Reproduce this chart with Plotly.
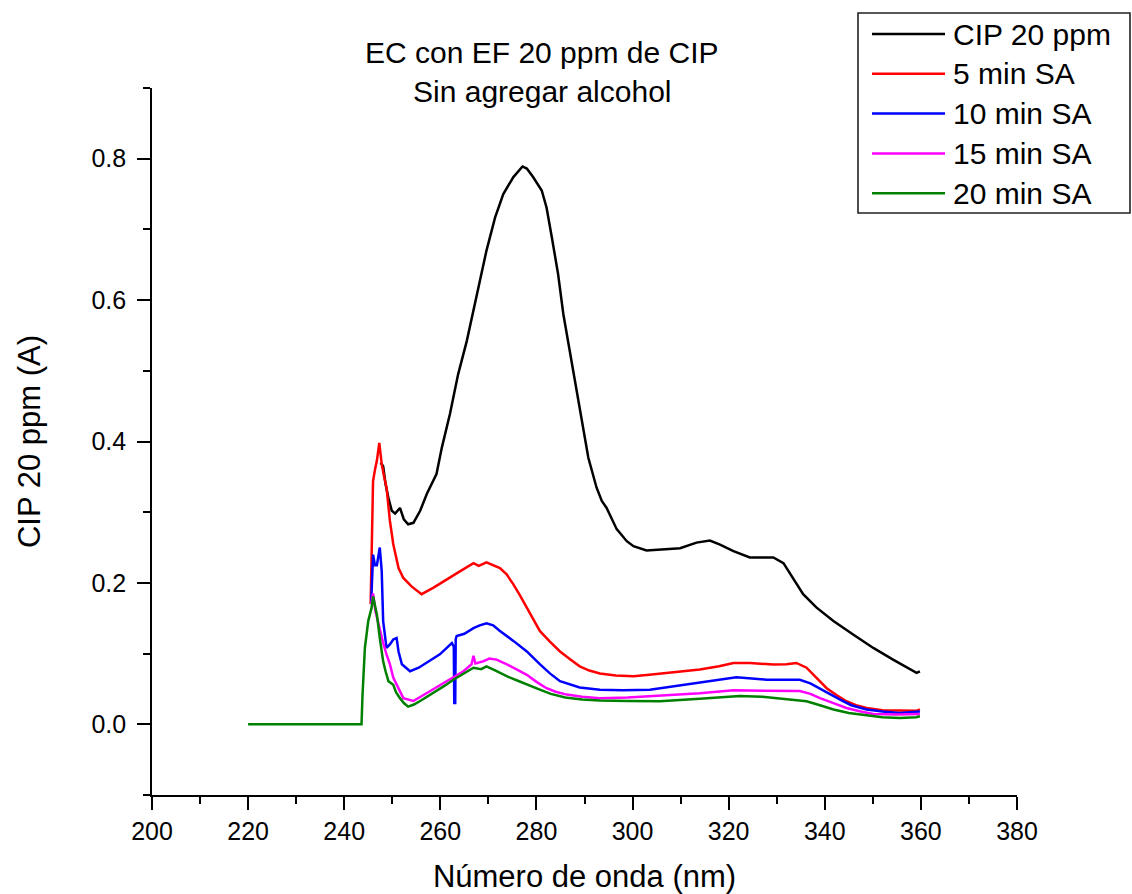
import plotly.graph_objects as go

# ---------------- data ----------------
series_names = ["CIP 20 ppm", "5 min SA", "10 min SA", "15 min SA", "20 min SA"]
series_colors = ["#000000", "#ff0000", "#0000ff", "#ff00ff", "#008000"]

cip_x = [247.6, 248.1, 248.6, 249.2, 249.9, 250.6, 251.6, 252.4, 253.3, 254.4, 255.8, 257.2,
         259.2, 260.3, 262.0, 263.7, 265.5, 266.9, 268.2, 269.6, 271.4, 273.1, 275.2, 277.1,
         278.0, 279.3, 281.1, 282.1, 283.2, 284.5, 285.6, 287.0, 288.4, 289.7, 290.8, 292.5,
         293.6, 294.6, 296.7, 298.8, 300.2, 302.9, 306.4, 309.9, 313.3, 316.1, 318.2, 321.0,
         324.4, 329.3, 331.4, 333.4, 335.5, 338.3, 341.8, 345.9, 350.1, 354.2, 359.1, 359.8]
cip_y = [0.370, 0.365, 0.340, 0.320, 0.302, 0.298, 0.306, 0.290, 0.283, 0.285, 0.302, 0.326,
         0.354, 0.391, 0.439, 0.495, 0.542, 0.585, 0.623, 0.670, 0.717, 0.750, 0.774, 0.789,
         0.786, 0.774, 0.755, 0.731, 0.689, 0.637, 0.580, 0.524, 0.472, 0.420, 0.377, 0.335,
         0.316, 0.306, 0.276, 0.259, 0.252, 0.246, 0.247, 0.249, 0.257, 0.260, 0.254, 0.245,
         0.236, 0.236, 0.228, 0.207, 0.184, 0.165, 0.146, 0.127, 0.108, 0.0915, 0.0727, 0.075]

m5_x = [245.5, 245.7, 246.0, 246.4, 246.8, 247.3, 247.6, 247.8, 248.3, 248.8, 249.5, 250.2,
        251.3, 252.3, 254.0, 256.1, 258.5, 262.0, 264.5, 266.9, 268.0, 269.6, 270.3, 272.4,
        273.8, 275.2, 276.6, 278.0, 279.3, 280.7, 282.8, 284.9, 287.0, 289.0, 291.0, 293.2,
        296.5, 300.2, 303.5, 307.1, 314.0, 318.0, 321.0, 324.4, 329.3, 332.0, 334.1, 336.2,
        338.3, 340.4, 342.5, 344.5, 346.5, 348.7, 352.0, 355.6, 359.0, 359.8]
m5_y = [0.170, 0.250, 0.344, 0.360, 0.373, 0.398, 0.380, 0.368, 0.350, 0.335, 0.288, 0.255,
        0.221, 0.207, 0.195, 0.184, 0.193, 0.207, 0.218, 0.228, 0.224, 0.229, 0.227, 0.221,
        0.212, 0.198, 0.182, 0.165, 0.148, 0.132, 0.117, 0.103, 0.092, 0.082, 0.076, 0.072,
        0.069, 0.068, 0.070, 0.0727, 0.0774, 0.082, 0.0868, 0.0868, 0.0845, 0.085, 0.0868, 0.080,
        0.066, 0.051, 0.041, 0.0326, 0.027, 0.023, 0.020, 0.019, 0.019, 0.021]

m10_x = [245.6, 246.0, 246.4, 246.8, 247.4, 247.8, 248.1, 248.8, 249.5, 250.2, 250.9, 251.3,
         252.0, 253.7, 255.5, 257.2, 259.9, 262.4, 262.8, 262.9, 263.1, 263.2, 263.4, 265.0,
         266.9, 268.2, 269.6, 271.0, 272.4, 275.2, 278.0, 280.7, 282.8, 284.9, 289.0, 293.2,
         298.0, 303.6, 310.5, 317.5, 321.6, 327.9, 334.8, 337.0, 339.0, 341.0, 343.2, 345.5,
         348.7, 352.0, 355.6, 359.0, 359.8]
m10_y = [0.170, 0.240, 0.225, 0.225, 0.250, 0.217, 0.146, 0.108, 0.113, 0.120, 0.122, 0.103,
         0.085, 0.075, 0.080, 0.087, 0.099, 0.115, 0.110, 0.030, 0.030, 0.120, 0.125, 0.128,
         0.136, 0.140, 0.143, 0.140, 0.132, 0.118, 0.103, 0.085, 0.072, 0.061, 0.052, 0.049,
         0.048, 0.049, 0.056, 0.063, 0.0666, 0.063, 0.063, 0.058, 0.051, 0.043, 0.035, 0.027,
         0.021, 0.018, 0.016, 0.017, 0.018]

m15_x = [245.6, 246.0, 246.5, 247.0, 247.4, 248.1, 248.8, 249.5, 250.2, 251.3, 252.3, 254.4,
         257.2, 259.2, 261.3, 263.0, 264.8, 266.5, 266.9, 267.3, 268.9, 270.2, 271.7, 273.5,
         275.2, 278.0, 280.0, 282.1, 284.0, 286.3, 289.5, 293.2, 299.0, 305.0, 314.0, 321.0,
         327.9, 334.8, 337.0, 339.0, 341.8, 344.5, 347.5, 350.1, 355.0, 359.8]
m15_y = [0.170, 0.185, 0.160, 0.145, 0.132, 0.115, 0.099, 0.085, 0.066, 0.050, 0.037, 0.033,
         0.044, 0.052, 0.061, 0.068, 0.075, 0.085, 0.097, 0.086, 0.089, 0.093, 0.0915, 0.086,
         0.080, 0.070, 0.060, 0.051, 0.046, 0.042, 0.039, 0.037, 0.038, 0.040, 0.044, 0.048,
         0.047, 0.047, 0.043, 0.037, 0.030, 0.023, 0.018, 0.0146, 0.014, 0.0146]

m20_x = [220.0, 243.6, 243.8, 244.3, 245.0, 245.7, 246.0, 246.4, 246.8, 247.4, 248.1, 248.6,
         249.2, 250.2, 250.8, 251.6, 252.4, 253.3, 254.5, 255.8, 257.5, 259.2, 261.0, 262.7,
         264.8, 266.9, 268.5, 269.6, 271.5, 273.8, 276.0, 278.0, 280.7, 283.0, 286.0, 289.5,
         293.2, 299.0, 305.7, 314.0, 322.3, 327.0, 331.4, 336.2, 339.0, 341.8, 345.0, 348.7,
         352.0, 355.6, 359.0, 359.8]
m20_y = [0.000, 0.000, 0.040, 0.108, 0.146, 0.165, 0.181, 0.170, 0.155, 0.122, 0.089, 0.075,
         0.061, 0.056, 0.045, 0.037, 0.030, 0.025, 0.028, 0.033, 0.040, 0.047, 0.055, 0.063,
         0.072, 0.080, 0.078, 0.082, 0.076, 0.068, 0.062, 0.056, 0.049, 0.043, 0.038, 0.035,
         0.0335, 0.033, 0.0326, 0.036, 0.040, 0.039, 0.036, 0.0326, 0.027, 0.021, 0.016, 0.0127,
         0.010, 0.009, 0.010, 0.0113]

x_tick_vals = [200, 220, 240, 260, 280, 300, 320, 340, 360, 380]
y_tick_vals = [0.0, 0.2, 0.4, 0.6, 0.8]

title_lines = ["EC con EF 20 ppm de CIP", "Sin agregar alcohol"]
x_title = "Número de onda (nm)"
y_title = "CIP 20 ppm (A)"

# ---------------- layout geometry (pixels) ----------------
W, H = 1132, 894
L, R, T, B = 152, 1017, 88, 795
FONT = "Liberation Sans, Arial, sans-serif"


def px(xp):
    return (xp - L) / (R - L)


def py(yp):
    return (B - yp) / (B - T)


all_x = [cip_x, m5_x, m10_x, m15_x, m20_x]
all_y = [cip_y, m5_y, m10_y, m15_y, m20_y]

fig = go.Figure()
for name, color, xs, ys in zip(series_names, series_colors, all_x, all_y):
    fig.add_trace(go.Scatter(x=xs, y=ys, mode="lines", name=name,
                             line=dict(color=color, width=2.5), showlegend=False))

axis_common = dict(showline=True, linecolor="black", linewidth=1.6, ticks="outside",
                   ticklen=13, tickwidth=1.6, tickcolor="black", showgrid=False,
                   zeroline=False, mirror=False, automargin=False,
                   tickfont=dict(family=FONT, size=25, color="black"))

fig.update_xaxes(range=[200, 380], tickvals=x_tick_vals, ticklabelstandoff=0,
                 minor=dict(dtick=10, tick0=200, ticklen=7, tickwidth=1.6,
                            tickcolor="black", ticks="outside"),
                 title=dict(text=x_title, font=dict(family=FONT, size=31, color="black"),
                            standoff=24),
                 **axis_common)
fig.update_yaxes(range=[-0.1, 0.9], tickvals=y_tick_vals, tickformat=".1f",
                 ticklabelstandoff=6,
                 minor=dict(dtick=0.1, tick0=0, ticklen=7, tickwidth=1.6,
                            tickcolor="black", ticks="outside"),
                 title=dict(text=y_title, font=dict(family=FONT, size=31, color="black"),
                            standoff=42),
                 **axis_common)

annotations = []
# title lines
for i, line in enumerate(title_lines):
    annotations.append(dict(text=line, xref="paper", yref="paper", x=px(542),
                            y=py(52 + 39 * i), xanchor="center", yanchor="middle",
                            showarrow=False,
                            font=dict(family=FONT, size=30, color="black")))

shapes = []
# legend box
shapes.append(dict(type="rect", xref="paper", yref="paper", x0=px(858), x1=px(1130),
                   y0=py(213), y1=py(13), line=dict(color="#222222", width=1.6),
                   fillcolor="white", layer="above"))
for i, (name, color) in enumerate(zip(series_names, series_colors)):
    yc = 34 + 39.8 * i
    shapes.append(dict(type="line", xref="paper", yref="paper", x0=px(872), x1=px(945),
                       y0=py(yc), y1=py(yc), line=dict(color=color, width=2.5),
                       layer="above"))
    annotations.append(dict(text=name, xref="paper", yref="paper", x=px(951),
                            y=py(yc), xanchor="left", yanchor="middle", showarrow=False,
                            font=dict(family=FONT, size=30, color="black")))

fig.update_layout(width=W, height=H, autosize=False,
                  margin=dict(l=L, r=W - R, t=T, b=H - B, pad=0),
                  plot_bgcolor="white", paper_bgcolor="white",
                  showlegend=False, annotations=annotations, shapes=shapes)

fig.write_html("out.html")
